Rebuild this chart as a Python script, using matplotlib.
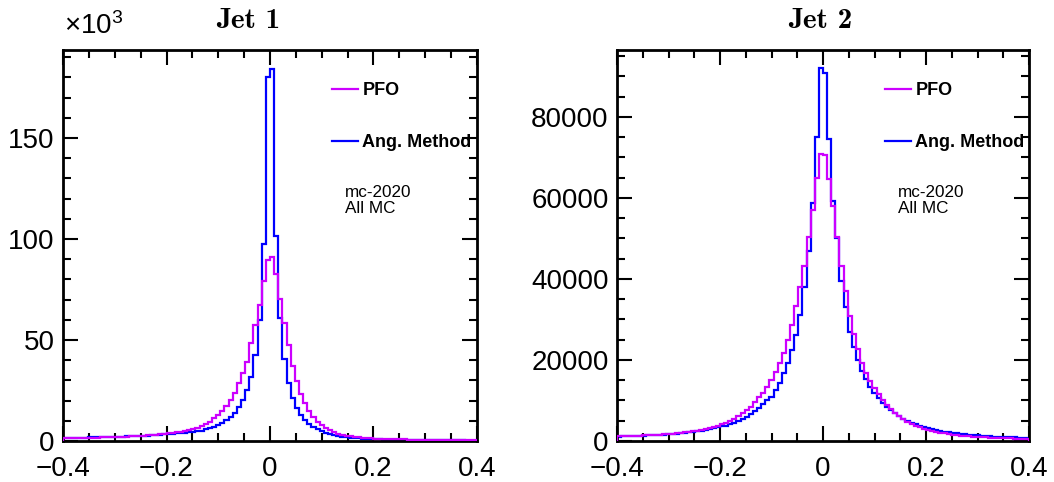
import numpy as np
import matplotlib
matplotlib.use('Agg')
import matplotlib.pyplot as plt
from matplotlib.ticker import MultipleLocator

plt.rcParams['font.family'] = ['Liberation Sans', 'DejaVu Sans']
plt.rcParams['mathtext.fontset'] = 'custom'
plt.rcParams['mathtext.rm'] = 'Liberation Sans'
plt.rcParams['mathtext.it'] = 'Liberation Sans:italic'
plt.rcParams['mathtext.bf'] = 'Liberation Sans:bold'

# 100 bins from -0.4 to 0.4
bin_lo, bin_hi, n_bins = -0.4, 0.4, 100

# Jet 1 (in units of 10^3 entries)
jet1_pfo = [
    1.25, 1.3, 1.35, 1.4, 1.45, 1.5, 1.6, 1.65, 1.7, 1.75,
    1.8, 1.9, 1.95, 2.0, 2.1, 2.2, 2.3, 2.4, 2.55, 2.7,
    2.85, 3.0, 3.2, 3.4, 3.6, 3.8, 4.1, 4.4, 4.7, 5.1,
    5.5, 6.0, 6.6, 7.4, 8.4, 9.6, 11.2, 12.9, 15.0, 17.3,
    20.3, 23.9, 28.5, 33.5, 39.3, 48.3, 57.4, 67.3, 79.4, 89.6,
    91.1, 82.7, 70.5, 58.3, 47.5, 37.1, 29.9, 23.3, 18.7, 15.0,
    12.0, 9.6, 7.8, 6.4, 5.3, 4.4, 3.7, 3.1, 2.7, 2.35,
    2.05, 1.8, 1.6, 1.45, 1.3, 1.2, 1.1, 1.0, 0.95, 0.9,
    0.85, 0.8, 0.75, 0.7, 0.67, 0.64, 0.6, 0.57, 0.54, 0.52,
    0.5, 0.48, 0.46, 0.44, 0.42, 0.4, 0.38, 0.37, 0.36, 0.35,
]
jet1_ang = [
    1.5, 1.5, 1.55, 1.6, 1.65, 1.7, 1.75, 1.8, 1.85, 1.9,
    1.95, 2.0, 2.05, 2.1, 2.2, 2.25, 2.3, 2.4, 2.5, 2.6,
    2.7, 2.8, 2.95, 3.1, 3.25, 3.4, 3.6, 3.8, 4.0, 4.2,
    4.4, 4.6, 4.8, 5.1, 5.8, 6.3, 7.1, 7.9, 9.1, 10.4,
    12.0, 14.0, 17.0, 20.3, 25.2, 31.8, 42.6, 60.1, 97.3, 180.0,
    184.2, 101.5, 60.7, 40.4, 28.5, 21.1, 16.2, 12.9, 10.4, 8.4,
    7.1, 5.8, 4.8, 4.0, 3.4, 2.9, 2.5, 2.15, 1.85, 1.6,
    1.4, 1.25, 1.1, 1.0, 0.9, 0.82, 0.76, 0.7, 0.65, 0.6,
    0.56, 0.52, 0.49, 0.46, 0.43, 0.41, 0.39, 0.37, 0.35, 0.33,
    0.32, 0.3, 0.29, 0.28, 0.27, 0.26, 0.25, 0.24, 0.23, 0.22,
]

# Jet 2 (entries)
jet2_pfo = [
    1140, 1170, 1200, 1240, 1280, 1320, 1360, 1410, 1460, 1520,
    1580, 1650, 1720, 1800, 1900, 2000, 2100, 2250, 2400, 2550,
    2750, 2950, 3200, 3450, 3750, 4100, 4500, 5000, 5500, 6100,
    6800, 7700, 8500, 9700, 10800, 11900, 13400, 15100, 17000, 19200,
    21700, 24900, 28600, 33200, 38100, 43200, 50400, 57000, 64900, 70900,
    70500, 64700, 58000, 50400, 43200, 36900, 30900, 26400, 22600, 19300,
    16900, 14800, 13000, 11500, 10000, 8800, 7800, 6900, 6100, 5400,
    4800, 4300, 3800, 3400, 3050, 2750, 2500, 2250, 2050, 1870,
    1710, 1570, 1450, 1340, 1240, 1150, 1070, 1000, 940, 880,
    830, 780, 740, 700, 660, 630, 600, 570, 540, 520,
]
jet2_ang = [
    1110, 1140, 1170, 1210, 1250, 1290, 1330, 1380, 1430, 1480,
    1540, 1600, 1670, 1740, 1820, 1900, 2000, 2100, 2220, 2350,
    2580, 2750, 2950, 3150, 3400, 3700, 3800, 4100, 4500, 4900,
    5400, 6000, 6600, 7300, 8100, 9100, 10200, 10900, 12600, 14400,
    16700, 19200, 22500, 26200, 31100, 38100, 47000, 58700, 75000, 92000,
    90800, 74600, 59300, 50000, 39600, 33000, 27000, 23300, 20000, 17300,
    15200, 13400, 11900, 10600, 9500, 8500, 7600, 6800, 6100, 5500,
    5000, 4500, 4100, 3750, 3450, 3150, 2900, 2700, 2500, 2300,
    2150, 2000, 1870, 1750, 1650, 1550, 1460, 1380, 1300, 1230,
    1170, 1110, 1060, 1010, 970, 930, 890, 860, 830, 800,
]

col_pfo = '#cc00ff'
col_ang = '#0000ff'

edges = np.linspace(bin_lo, bin_hi, n_bins + 1)

fig = plt.figure(figsize=(10.54, 4.82), dpi=100)
ax1 = fig.add_axes([63 / 1054, 41 / 482, 414 / 1054, 391 / 482])
ax2 = fig.add_axes([617 / 1054, 41 / 482, 412 / 1054, 391 / 482])

panels = [
    (ax1, jet1_pfo, jet1_ang, 'Jet 1', 193.6, 50, 10, 0.447),
    (ax2, jet2_pfo, jet2_ang, 'Jet 2', 96500, 20000, 5000, 0.493),
]

for ax, pfo, ang, title, ymax, major, minor, tx in panels:
    # PFO listed first in the legend but drawn on top of the blue line
    ax.stairs(pfo, edges, color=col_pfo, lw=1.6, label='PFO', zorder=3)
    ax.stairs(ang, edges, color=col_ang, lw=1.6, label='Ang. Method', zorder=2)
    ax.set_xlim(bin_lo, bin_hi)
    ax.set_ylim(0, ymax)
    ax.xaxis.set_major_locator(MultipleLocator(0.2))
    ax.xaxis.set_minor_locator(MultipleLocator(0.05))
    ax.yaxis.set_major_locator(MultipleLocator(major))
    ax.yaxis.set_minor_locator(MultipleLocator(minor))
    ax.xaxis.set_major_formatter(plt.FuncFormatter(
        lambda v, p: '0' if abs(v) < 1e-9 else ('%.1f' % v).replace('-', '\u2212')))
    ax.tick_params(which='both', direction='in', top=True, right=True,
                   labelsize=20, width=1.5)
    ax.tick_params(which='major', length=11, pad=6)
    ax.tick_params(axis='x', which='major', pad=11)
    ax.tick_params(which='minor', length=5.5)
    for s in ax.spines.values():
        s.set_linewidth(2)
    ax.text(tx, 1.04, title, transform=ax.transAxes, ha='center',
            va='bottom', fontsize=21, family='cmb10')
    ax.legend(loc='upper left', bbox_to_anchor=(0.61, 0.96),
              frameon=False, handlelength=1.45, handletextpad=0.25,
              labelspacing=1.95, prop={'weight': 'bold', 'size': 13})
    ax.text(0.682, 0.615, 'mc-2020\nAll MC', transform=ax.transAxes,
            ha='left', va='center', fontsize=12.3, linespacing=1.05)

fig.text(64 / 1054, 1 - 26 / 482, r'$\times10^{3}$', ha='left', va='center',
         fontsize=20)

fig.savefig('out.png', dpi=100)
